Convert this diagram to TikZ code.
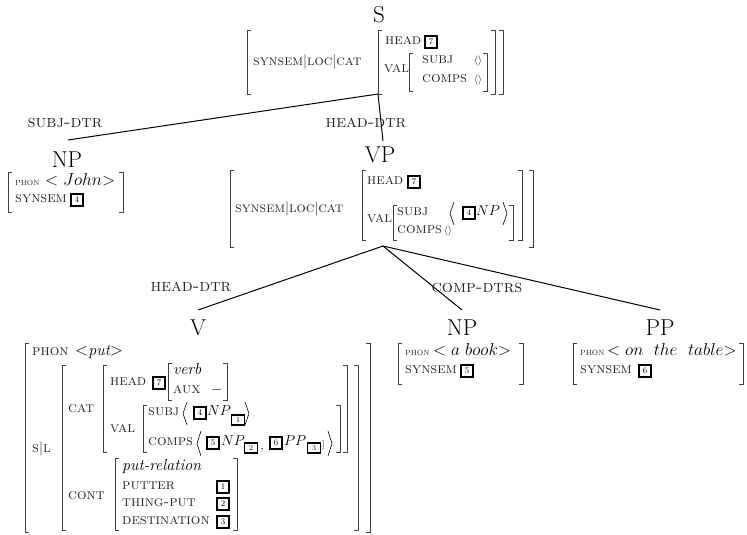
\documentclass[tikz,border=0pt]{standalone}
\tikzset{
  lab/.style={inner sep=0, font=\fontsize{23}{25}\selectfont},
  sc/.style={anchor=mid west, inner sep=0, text=black!85, font=\fontsize{15}{17}\selectfont\scshape},
  scpath/.style={sc, font=\fontsize{14.5}{16}\selectfont\scshape},
  scsmall/.style={sc, font=\fontsize{10}{11}\selectfont\scshape},
  elab/.style={inner sep=0, text=black!85, font=\fontsize{17.5}{19}\selectfont\scshape},
  mi/.style={anchor=mid west, inner sep=0, font=\fontsize{15.5}{17}\selectfont},
  ph/.style={anchor=mid west, inner sep=0, font=\fontsize{17}{19}\selectfont},
  it/.style={anchor=mid west, inner sep=0, font=\fontsize{16}{18}\selectfont\itshape},
  tagbox/.style={draw, line width=2pt, inner sep=0, minimum size=12.5pt, font=\fontsize{8.5}{8.5}\selectfont},
  subtag/.style={draw, line width=1.6pt, inner sep=0, minimum width=13pt, minimum height=10.5pt, font=\fontsize{7.5}{7.5}\selectfont},
  brk/.style={line width=0.8pt, draw=black!75},
  treeline/.style={line width=1pt, draw=black},
}
\newcommand\brL[3]{\draw[brk] (#1+4,#2) -- (#1,#2) -- (#1,#3) -- (#1+4,#3);}
\newcommand\brR[3]{\draw[brk] (#1-4,#2) -- (#1,#2) -- (#1,#3) -- (#1-4,#3);}
\newcommand\angL[3]{\draw[line width=0.6pt] (#1+4,#2) -- ({#1},{(#2+#3)/2}) -- (#1+4,#3);}
\newcommand\angR[3]{\draw[line width=0.6pt] (#1-4,#2) -- ({#1},{(#2+#3)/2}) -- (#1-4,#3);}
\begin{document}
\begin{tikzpicture}[x=1pt,y=-1pt]
\useasboundingbox[fill=white] (0,0) rectangle (747,535);

% ---------- S ----------
\node[lab] (Slab) at (379,15) {S};
\brL{247}{30}{94} \brL{378}{30}{94} \brL{409}{53}{91}
\brR{487}{53}{91} \brR{495}{30}{94} \brR{503}{30}{94}
\node[scpath] (s1) at (253,63) {synsem$|$loc$|$cat};
\node[sc] (s2) at (385,42) {head};
\node[tagbox] (s3) at (431,42) {7};
\node[sc] (s4) at (384,70) {val};
\node[sc] (s5) at (422,61) {subj};
\node[mi, font=\fontsize{10}{12}\selectfont] (s6) at (474,61) {$\langle\rangle$};
\node[sc] (s7) at (422,80) {comps};
\node[mi, font=\fontsize{10}{12}\selectfont] (s8) at (474,80) {$\langle\rangle$};
\coordinate (Sroot) at (378,94);

% ---------- S branches ----------
\coordinate (NPlTop) at (68,140);
\coordinate (VPTop) at (383,141);
\draw[treeline] (Sroot) -- (NPlTop);
\draw[treeline] (Sroot) -- (VPTop);
\node[elab] (e1) at (65,123) {subj-dtr};
\node[elab] (e2) at (366,123) {head-dtr};

% ---------- NP (left) ----------
\node[lab] (NPl) at (67,160) {NP};
\brL{8}{172}{212} \brR{123}{172}{212}
\node[scsmall] (n1) at (15,183) {phon};
\node[ph] (n1b) at (45,183) {$<John\mathord{>}$};
\node[sc] (n2) at (15,200) {synsem};
\node[tagbox] (n3) at (77,200) {4};

% ---------- VP ----------
\node[lab] (VPlab) at (380,155) {VP};
\brL{230}{170}{247} \brL{362}{170}{240} \brL{393}{205}{240}
\brR{513}{205}{240} \brR{522}{170}{240} \brR{533}{170}{247}
\node[scpath] (v1) at (235,210) {synsem$|$loc$|$cat};
\node[sc] (v2) at (367,182) {head};
\node[tagbox] (v3) at (414,182) {7};
\node[sc] (v4) at (367,220) {val};
\node[sc] (v5) at (397,213) {subj};
\angL{450}{202}{225}
\node[tagbox] (v6) at (469,213) {4};
\node[mi] (v7) at (476,213) {$NP$};
\angR{507}{202}{225}
\node[sc] (v8) at (397,231) {comps};
\node[mi, font=\fontsize{10}{12}\selectfont] (v9) at (444,231) {$\langle\rangle$};
\coordinate (VProot) at (383,246);

% ---------- VP branches ----------
\coordinate (VTop) at (198,310);
\coordinate (NPrTop) at (462,310);
\coordinate (PPTop) at (660,310);
\draw[treeline] (VProot) -- (VTop);
\draw[treeline] (VProot) -- (NPrTop);
\draw[treeline] (VProot) -- (PPTop);
\node[elab] (e3) at (191,287) {head-dtr};
\node[elab] (e4) at (477,288) {comp-dtrs};

% ---------- V ----------
\node[lab] (Vlab) at (198,328) {V};
\brL{25}{343}{532} \brR{370}{343}{532}
\node[sc] (w1) at (32,353) {phon};
\node[it] (w1b) at (75,353) {$<$put$>$};
\brL{62}{365}{530} \brR{358}{365}{530}
\node[sc] (w2) at (32,450) {s$|$l};
\node[sc] (w3) at (68,410) {cat};
\brL{103}{365}{452} \brR{347}{365}{452}
\node[sc] (w4) at (110,383) {head};
\node[tagbox] (w5) at (159,383) {7};
\brL{168}{363}{400} \brR{227}{363}{400}
\node[it] (w6) at (173,372) {verb};
\node[sc] (w7) at (173,391) {aux};
\node[mi] (w8) at (211,391) {$-$};
\node[sc] (w9) at (110,430) {val};
\brL{143}{405}{452} \brR{340}{405}{452}
\node[sc] (w10) at (148,413) {subj};
\angL{183}{402}{425}
\node[tagbox] (w11) at (200,413) {4};
\node[mi] (w12) at (207,413) {$NP$};
\node[subtag] (w13) at (238,420) {1};
\angR{249}{402}{425}
\node[sc] (w14) at (148,443) {comps};
\angL{197}{431}{456}
\node[tagbox] (w15) at (213,443) {5};
\node[mi] (w16) at (221,443) {$NP$};
\node[subtag] (w17) at (251,448) {2};
\node[mi] (w18) at (260,447) {,};
\node[tagbox] (w19) at (276,443) {6};
\node[mi] (w20) at (284,443) {$PP$};
\node[subtag] (w21) at (314,448) {3};
\node[mi, font=\fontsize{9}{10}\selectfont] (w22) at (322,445) {]};
\angR{332}{431}{456}
\node[sc] (w23) at (68,497) {cont};
\brL{115}{458}{530} \brR{237}{458}{530}
\node[it] (w24) at (122,468) {put-relation};
\node[sc] (w25) at (122,487) {putter};
\node[tagbox] (w26) at (223,487) {1};
\node[sc] (w27) at (122,504) {thing-put};
\node[tagbox] (w28) at (223,504) {2};
\node[sc] (w29) at (122,522) {destination};
\node[tagbox] (w30) at (223,522) {3};

% ---------- NP (right) ----------
\node[lab] (NPr) at (462,328) {NP};
\brL{398}{343}{384} \brR{523}{343}{384}
\node[scsmall] (r1) at (405,353) {phon};
\node[ph] (r1b) at (433,353) {$<a\ book\mathord{>}$};
\node[sc] (r2) at (405,371) {synsem};
\node[tagbox] (r3) at (467,371) {5};

% ---------- PP ----------
\node[lab] (PPlab) at (660,328) {PP};
\brL{573}{343}{384} \brR{743}{343}{384}
\node[scsmall] (p1) at (580,353) {phon};
\node[ph, font=\fontsize{19}{21}\selectfont] (p1b) at (607,353) {$<on\;\ the\;\ table\mathord{>}$};
\node[sc] (p2) at (580,371) {synsem};
\node[tagbox] (p3) at (645,371) {6};
\end{tikzpicture}
\end{document}
